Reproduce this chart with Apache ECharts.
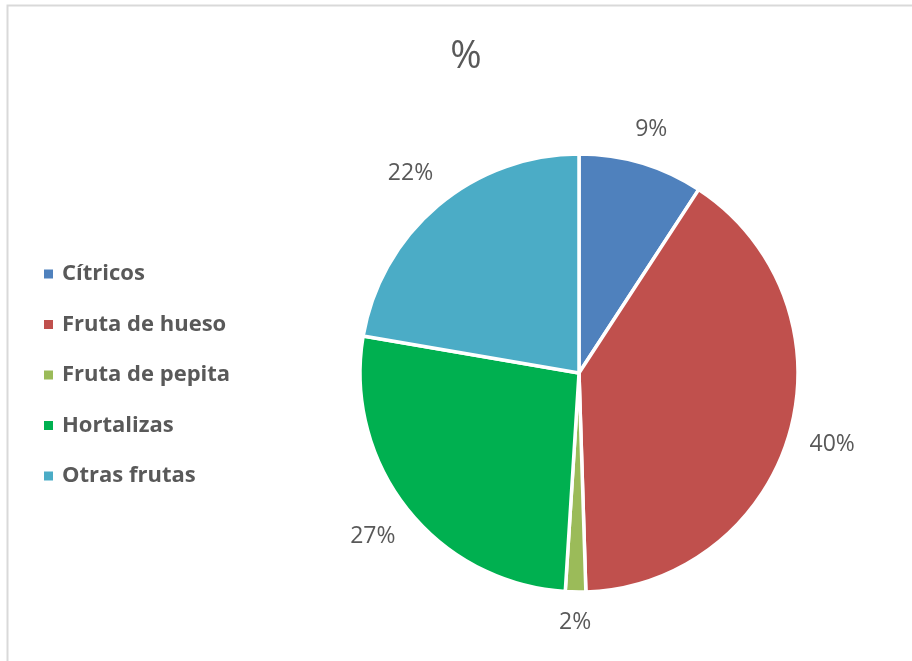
<!DOCTYPE html>
<html><head><meta charset="utf-8">
<script src="https://cdn.jsdelivr.net/npm/echarts@6/dist/echarts.min.js"></script>
<style>html,body{margin:0;padding:0;background:#fff}#c{width:912px;height:661px}</style>
</head><body><div id="c"></div>
<script>
const categories = ['Cítricos', 'Fruta de hueso', 'Fruta de pepita', 'Hortalizas', 'Otras frutas'];
const values = [9.2, 40.3, 1.5, 26.7, 22.3];
const colors = ['#4F81BD', '#C0504D', '#9BBB59', '#00B050', '#4BACC6'];
const titleText = '%';

const CENTER = [579, 373];
const RADIUS = 219;
const LABEL_GAP = 19;

const chart = echarts.init(document.getElementById('c'));
chart.setOption({
  backgroundColor: '#fff',
  animation: false,
  graphic: [{
    type: 'rect', shape: { x: 7.5, y: 5.5, width: 920, height: 680 },
    style: { fill: 'none', stroke: '#D9D9D9', lineWidth: 2 }, silent: true
  }],
  title: {
    text: titleText, left: 461, top: 33, textAlign: 'center',
    textStyle: { fontFamily: '"Open Sans", sans-serif', fontSize: 38, fontWeight: 'normal', color: '#595959' }
  },
  legend: {
    orient: 'vertical', left: 37, top: 258, itemGap: 28.5,
    itemWidth: 11, itemHeight: 11, icon: 'rect',
    data: categories,
    textStyle: { fontFamily: '"Open Sans", sans-serif', fontSize: 22, fontWeight: 'bold', color: '#595959', padding: [0, 0, 0, 3] }
  },
  series: [{
    type: 'pie', center: CENTER, radius: RADIUS, startAngle: 90, clockwise: true,
    data: categories.map((n, i) => ({ name: n, value: values[i], itemStyle: { color: colors[i] } })),
    itemStyle: { borderColor: '#fff', borderWidth: 3.5 },
    label: {
      show: true, position: 'outside',
      formatter: p => Math.round(p.value) + '%',
      fontFamily: '"Open Sans", sans-serif', fontSize: 23, color: '#595959'
    },
    labelLine: { show: false, length: 18, length2: 4 },
    labelLayout: function (params) {
      const pts = params.labelLinePoints;
      if (!pts) return {};
      const dx = pts[0][0] - CENTER[0], dy = pts[0][1] - CENTER[1];
      const len = Math.sqrt(dx * dx + dy * dy) || 1;
      const ux = dx / len, uy = dy / len;
      const w = params.labelRect.width, h = params.labelRect.height;
      const ext = Math.abs(ux) * w / 2 + Math.abs(uy) * h / 2;
      const d = RADIUS + LABEL_GAP + ext;
      return { x: CENTER[0] + ux * d, y: CENTER[1] + uy * d, align: 'center', verticalAlign: 'middle' };
    },
    emphasis: { disabled: true }
  }]
});
</script></body></html>
